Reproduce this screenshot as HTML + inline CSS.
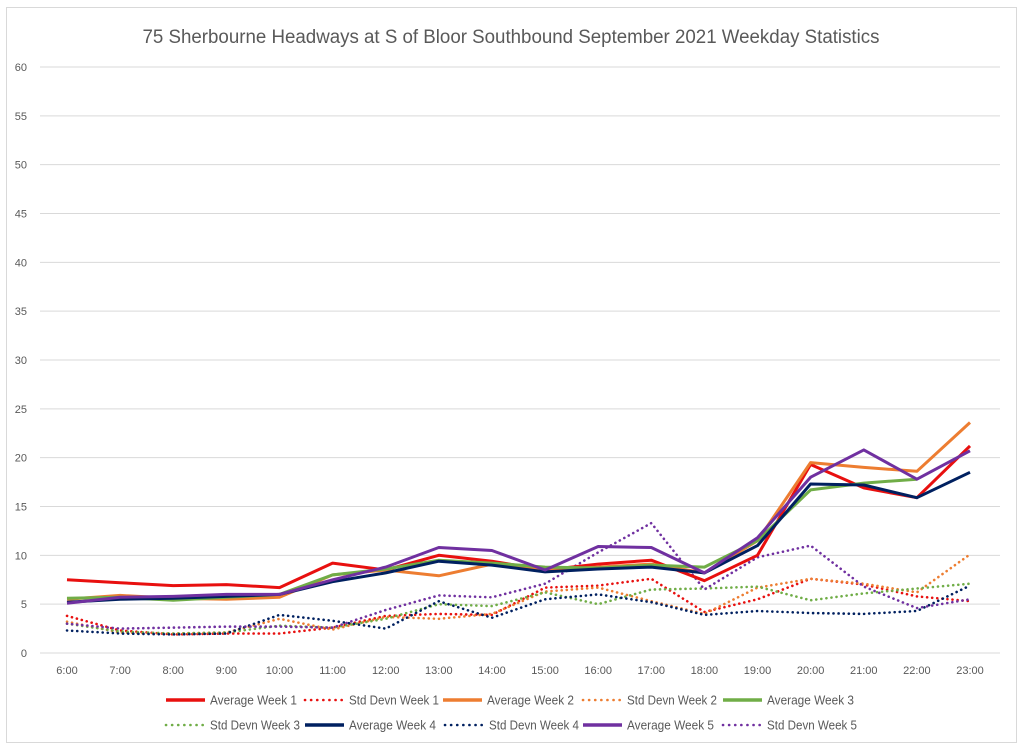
<!DOCTYPE html>
<html><head><meta charset="utf-8"><style>
body{margin:0;background:#fff;font-family:"Liberation Sans",sans-serif}
svg text{font-family:"Liberation Sans",sans-serif}
</style></head><body>
<svg id="chart" width="1024" height="749" xmlns="http://www.w3.org/2000/svg">
<rect x="6.5" y="7.5" width="1010" height="735" fill="#fff" stroke="#d9d9d9"/>
<text x="511" y="43" text-anchor="middle" font-size="19" fill="#595959" textLength="737" lengthAdjust="spacingAndGlyphs">75 Sherbourne Headways at S of Bloor Southbound September 2021 Weekday Statistics</text>
<g id="grid"></g><g id="series"></g><g id="legend"></g>
</svg>
<script>
const categories=["6:00","7:00","8:00","9:00","10:00","11:00","12:00","13:00","14:00","15:00","16:00","17:00","18:00","19:00","20:00","21:00","22:00","23:00"];
const yTicks=[0,5,10,15,20,25,30,35,40,45,50,55,60];
const avgW1=[7.5,7.2,6.9,7.0,6.7,9.2,8.5,10.0,9.4,8.5,9.1,9.5,7.4,10.0,19.3,16.9,15.9,21.2];
const stdW1=[3.8,2.3,1.9,2.0,2.0,2.6,3.8,4.0,3.9,6.7,6.9,7.6,4.2,5.5,7.6,7.0,5.8,5.3];
const avgW2=[5.5,5.9,5.6,5.5,5.7,8.0,8.5,7.9,9.1,8.5,8.8,9.1,8.2,11.5,19.5,19.0,18.6,23.6];
const stdW2=[3.2,2.1,2.0,2.1,3.5,2.4,3.7,3.5,4.0,6.3,6.7,5.3,4.0,6.7,7.6,7.1,6.2,10.1];
const avgW3=[5.6,5.7,5.4,5.7,6.0,8.0,8.6,9.5,9.2,8.8,8.7,9.0,8.8,11.5,16.7,17.4,17.8,null];
const stdW3=[3.0,2.2,2.0,2.1,2.8,2.6,3.5,5.0,4.8,6.2,5.0,6.5,6.6,6.8,5.4,6.1,6.6,7.1];
const avgW4=[5.2,5.5,5.6,5.8,6.0,7.3,8.2,9.4,9.0,8.3,8.6,8.8,8.2,11.0,17.3,17.2,15.9,18.5];
const stdW4=[2.3,2.0,1.9,2.0,3.9,3.3,2.5,5.3,3.6,5.5,6.0,5.2,3.9,4.3,4.1,4.0,4.3,6.9];
const avgW5=[5.1,5.7,5.8,6.0,6.0,7.5,8.8,10.8,10.5,8.5,10.9,10.8,8.2,11.8,18.0,20.8,17.8,20.7];
const stdW5=[3.0,2.5,2.6,2.7,2.7,2.6,4.4,5.9,5.7,7.1,10.3,13.3,6.5,9.8,11.0,6.8,4.6,5.5];
const seriesNames=["Average Week 1","Std Devn Week 1","Average Week 2","Std Devn Week 2","Average Week 3","Std Devn Week 3","Average Week 4","Std Devn Week 4","Average Week 5","Std Devn Week 5"];

const NS="http://www.w3.org/2000/svg";
const X0=67,X1=970,Y0=653,Y1=67;
const xs=i=>X0+(X1-X0)*i/(categories.length-1);
const ys=v=>Y0-(Y0-Y1)*v/60;
function mk(t,a,p){const e=document.createElementNS(NS,t);for(const k in a)e.setAttribute(k,a[k]);p.appendChild(e);return e;}
const grid=document.getElementById('grid');
yTicks.forEach(v=>{
  const l=mk('line',{x1:40,x2:1000,y1:ys(v),y2:ys(v),stroke:'#d9d9d9','stroke-width':1},grid);
  
  
  const t=mk('text',{x:27,y:ys(v)+4,'text-anchor':'end','font-size':11,fill:'#595959'},grid);
  t.textContent=v;
  
  
});
categories.forEach((c,i)=>{
  const t=mk('text',{x:xs(i),y:674,'text-anchor':'middle','font-size':11,fill:'#595959'},grid);
  t.textContent=c;
  
  
});
const data=[avgW1,stdW1,avgW2,stdW2,avgW3,stdW3,avgW4,stdW4,avgW5,stdW5];
const colors=["#e8100f","#e8100f","#ed7d31","#ed7d31","#70ad47","#70ad47","#002060","#002060","#7030a0","#7030a0"];
const sg=document.getElementById('series');
const order=[1,3,5,7,9,0,2,4,6,8];
order.forEach(k=>{
  const d=data[k];let s='';
  d.forEach((v,i)=>{if(v==null)return;s+=(s?'L':'M')+xs(i).toFixed(1)+','+ys(v).toFixed(1);});
  const dotted=k%2===1;
  const p=mk('path',{d:s,fill:'none',stroke:colors[k],'stroke-width':dotted?2.6:3,'stroke-linejoin':'round','stroke-linecap':dotted?'round':'butt','stroke-dasharray':dotted?'0.1 5':'none'},sg);
  
  
});
const lg=document.getElementById('legend');
const pos=[[166,700],[305,700],[443,700],[583,700],[723,700],[166,725],[305,725],[445,725],[583,725],[723,725]];
seriesNames.forEach((n,k)=>{
  const [x,y]=pos[k];const dotted=k%2===1;
  const g=mk('g',{},lg);
  
  
  mk('line',{x1:x,x2:x+39,y1:y,y2:y,stroke:colors[k],'stroke-width':dotted?2.6:3.5,'stroke-linecap':dotted?'round':'butt','stroke-dasharray':dotted?'0.1 6':'none'},g);
  const t=mk('text',{x:x+44,y:y+4.5,'font-size':12.5,fill:'#595959',textLength:dotted?90:87,lengthAdjust:'spacingAndGlyphs'},g);
  t.textContent=n;
});
</script>
</body></html>
